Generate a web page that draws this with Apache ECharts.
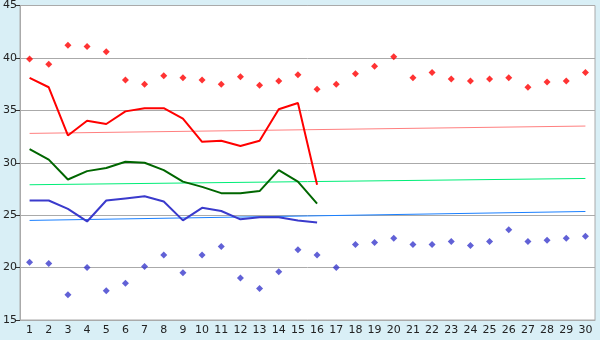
<!DOCTYPE html>
<html>
<head>
<meta charset="utf-8">
<script src="https://cdn.jsdelivr.net/npm/echarts@6/dist/echarts.min.js"></script>
<style>
html,body{margin:0;padding:0;background:#d9eff6;}
#c{width:600px;height:340px;}
</style>
</head>
<body>
<div id="c"></div>
<script>
var categories = ['1','2','3','4','5','6','7','8','9','10','11','12','13','14','15','16','17','18','19','20','21','22','23','24','25','26','27','28','29','30'];
var redPoints = [39.9,39.4,41.2,41.1,40.6,37.9,37.5,38.3,38.1,37.9,37.5,38.2,37.4,37.8,38.4,37.0,37.5,38.5,39.2,40.1,38.1,38.6,38.0,37.8,38.0,38.1,37.2,37.7,37.8,38.6];
var bluePoints = [20.5,20.4,17.4,20.0,17.8,18.5,20.1,21.2,19.5,21.2,22.0,19.0,18.0,19.6,21.7,21.2,20.0,22.2,22.4,22.8,22.2,22.2,22.5,22.1,22.5,23.6,22.5,22.6,22.8,23.0];
var redLine = [38.1,37.2,32.6,34.0,33.7,34.9,35.2,35.2,34.2,32.0,32.1,31.6,32.1,35.1,35.7,27.9];
var greenLine = [31.3,30.3,28.4,29.2,29.5,30.1,30.0,29.3,28.2,27.7,27.1,27.1,27.3,29.3,28.2,26.1];
var blueLine = [26.4,26.4,25.6,24.4,26.4,26.6,26.8,26.3,24.5,25.7,25.4,24.6,24.8,24.8,24.5,24.3];
var redTrend = [32.8, 33.5];
var greenTrend = [27.9, 28.5];
var blueTrend = [24.5, 25.35];
var yTicks = {min: 15, max: 45, interval: 5};

function ends(v){ return [[categories[0], v[0]], [categories[categories.length-1], v[1]]]; }

var chart = echarts.init(document.getElementById('c'), null, {renderer:'canvas'});
var font = 'DejaVu Sans';
chart.setOption({
  animation: false,
  backgroundColor: '#d9eff6',
  grid: {left: 20, right: 5, top: 5, bottom: 20, show: true, backgroundColor: '#ffffff', borderColor: '#aaaaaa', borderWidth: 1},
  xAxis: {
    type: 'category', data: categories, boundaryGap: true,
    axisLine: {lineStyle: {color: '#aaaaaa'}},
    axisTick: {alignWithLabel: true, length: 4, lineStyle: {color: '#333'}},
    axisLabel: {color: '#222', fontFamily: font, fontSize: 11, margin: 5, interval: 0},
    splitLine: {show: false}
  },
  yAxis: {
    type: 'value', min: yTicks.min, max: yTicks.max, interval: yTicks.interval,
    axisLine: {show: true, lineStyle: {color: '#aaaaaa'}},
    axisTick: {show: true, length: 4, lineStyle: {color: '#333'}},
    axisLabel: {color: '#222', fontFamily: font, fontSize: 11, margin: 3},
    splitLine: {lineStyle: {color: '#aaaaaa'}}
  },
  series: [
    {type: 'line', data: ends(redTrend), symbol: 'none', lineStyle: {color: '#ff8080', width: 1}, z: 1},
    {type: 'line', data: ends(greenTrend), symbol: 'none', lineStyle: {color: '#00ee77', width: 1}, z: 1},
    {type: 'line', data: ends(blueTrend), symbol: 'none', lineStyle: {color: '#1a80ff', width: 1}, z: 1},
    {type: 'line', data: redLine, symbol: 'none', lineStyle: {color: '#ff0000', width: 2}, z: 2},
    {type: 'line', data: greenLine, symbol: 'none', lineStyle: {color: '#006600', width: 2}, z: 2},
    {type: 'line', data: blueLine, symbol: 'none', lineStyle: {color: '#3a3acc', width: 2}, z: 2},
    {type: 'scatter', data: redPoints, symbol: 'diamond', symbolSize: 7, itemStyle: {color: '#ff0000'}, z: 3},
    {type: 'scatter', data: bluePoints, symbol: 'diamond', symbolSize: 7, itemStyle: {color: '#3a3acc'}, z: 3}
  ]
});
</script>
</body>
</html>
